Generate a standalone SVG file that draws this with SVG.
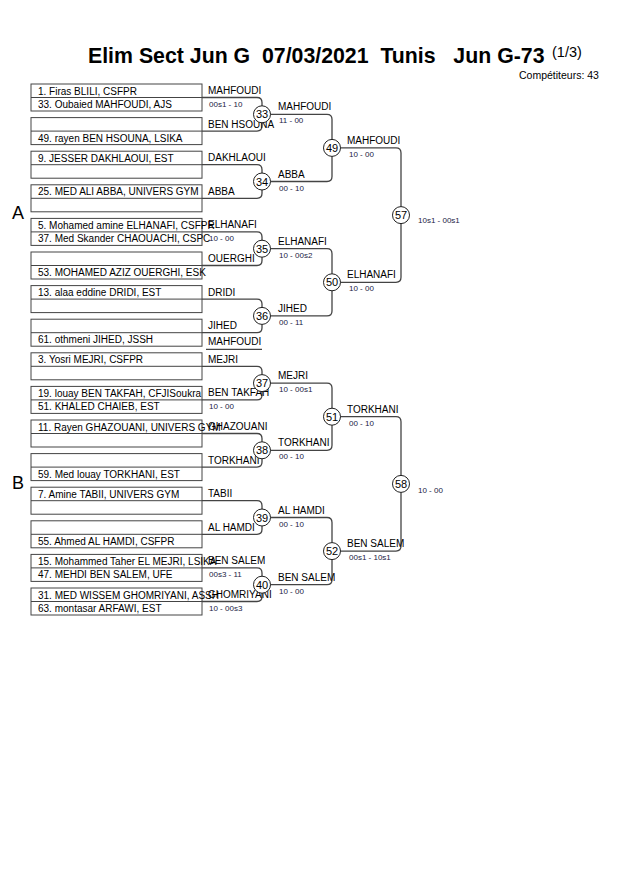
<svg xmlns="http://www.w3.org/2000/svg" width="630" height="891" viewBox="0 0 630 891">
<style>
text{font-family:"Liberation Sans",Arial,sans-serif;fill:#000}
.title{font-size:21.3px;font-weight:bold;white-space:pre}
.sup{font-size:14.5px}
.comp{font-size:10.5px}
.big{font-size:18px}
.pl{font-size:10px}
.nm{font-size:10px}
.sc{font-size:8px;fill:#222244}
.num{font-size:11px;text-anchor:middle}
.box{fill:#fff;stroke:#444;stroke-width:1}
.div{stroke:#444;stroke-width:1}
.br{fill:none;stroke:#444;stroke-width:1.3}
.c{fill:#fff;stroke:#222;stroke-width:1}
</style>
<rect width="630" height="891" fill="#fff"/>
<g id="header">
<text class="title" x="88" y="63">Elim Sect Jun G  07/03/2021  Tunis   Jun G-73</text>
<text class="sup" x="552" y="57">(1/3)</text>
<text class="comp" x="519" y="79">Compétiteurs: 43</text>
<text class="big" x="12" y="219">A</text>
<text class="big" x="12" y="489">B</text>
</g>
<g id="connectors">
<path class="br" d="M202,97.5H257Q262,97.5 262,102.5V126.1Q262,131.1 257,131.1H202"/>
<path class="br" d="M202,164.7H257Q262,164.7 262,169.7V193.3Q262,198.3 257,198.3H202"/>
<path class="br" d="M202,231.9H257Q262,231.9 262,236.9V260.5Q262,265.5 257,265.5H202"/>
<path class="br" d="M202,299.1H257Q262,299.1 262,304.1V327.7Q262,332.7 257,332.7H202"/>
<path class="br" d="M202,366.3H257Q262,366.3 262,371.3V394.9Q262,399.9 257,399.9H202"/>
<path class="br" d="M202,433.5H257Q262,433.5 262,438.5V462.1Q262,467.1 257,467.1H202"/>
<path class="br" d="M202,500.7H257Q262,500.7 262,505.7V529.3Q262,534.3 257,534.3H202"/>
<path class="br" d="M202,567.9H257Q262,567.9 262,572.9V596.5Q262,601.5 257,601.5H202"/>
<line class="br" x1="206" y1="349.3" x2="262" y2="349.3"/>
<path class="br" d="M262,114.3H327Q332,114.3 332,119.3V176.5Q332,181.5 327,181.5H262"/>
<path class="br" d="M262,248.7H327Q332,248.7 332,253.7V310.9Q332,315.9 327,315.9H262"/>
<path class="br" d="M262,383.1H327Q332,383.1 332,388.1V445.3Q332,450.3 327,450.3H262"/>
<path class="br" d="M262,517.5H327Q332,517.5 332,522.5V579.7Q332,584.7 327,584.7H262"/>
<path class="br" d="M332,147.9H396Q401,147.9 401,152.9V277.3Q401,282.3 396,282.3H332"/>
<path class="br" d="M332,416.7H396Q401,416.7 401,421.7V546.1Q401,551.1 396,551.1H332"/>
</g>
<g id="pairs">
<g id="p0"><rect class="box" x="31" y="84" width="171" height="27"/><line class="div" x1="31" y1="97.5" x2="202" y2="97.5"/>
<text class="pl" x="38" y="94.5">1. Firas BLILI, CSFPR</text><text class="pl" x="38" y="108">33. Oubaied MAHFOUDI, AJS</text></g>
<g id="p1"><rect class="box" x="31" y="117.6" width="171" height="27"/><line class="div" x1="31" y1="131.1" x2="202" y2="131.1"/>
<text class="pl" x="38" y="141.6">49. rayen BEN HSOUNA, LSIKA</text></g>
<g id="p2"><rect class="box" x="31" y="151.2" width="171" height="27"/><line class="div" x1="31" y1="164.7" x2="202" y2="164.7"/>
<text class="pl" x="38" y="161.7">9. JESSER DAKHLAOUI, EST</text></g>
<g id="p3"><rect class="box" x="31" y="184.8" width="171" height="27"/><line class="div" x1="31" y1="198.3" x2="202" y2="198.3"/>
<text class="pl" x="38" y="195.3">25. MED ALI ABBA, UNIVERS GYM</text></g>
<g id="p4"><rect class="box" x="31" y="218.4" width="171" height="27"/><line class="div" x1="31" y1="231.9" x2="202" y2="231.9"/>
<text class="pl" x="38" y="228.9">5. Mohamed amine ELHANAFI, CSFPR</text><text class="pl" x="38" y="242.4">37. Med Skander CHAOUACHI, CSPC</text></g>
<g id="p5"><rect class="box" x="31" y="252" width="171" height="27"/><line class="div" x1="31" y1="265.5" x2="202" y2="265.5"/>
<text class="pl" x="38" y="276">53. MOHAMED AZIZ OUERGHI, ESK</text></g>
<g id="p6"><rect class="box" x="31" y="285.6" width="171" height="27"/><line class="div" x1="31" y1="299.1" x2="202" y2="299.1"/>
<text class="pl" x="38" y="296.1">13. alaa eddine DRIDI, EST</text></g>
<g id="p7"><rect class="box" x="31" y="319.2" width="171" height="27"/><line class="div" x1="31" y1="332.7" x2="202" y2="332.7"/>
<text class="pl" x="38" y="343.2">61. othmeni JIHED, JSSH</text></g>
<g id="p8"><rect class="box" x="31" y="352.8" width="171" height="27"/><line class="div" x1="31" y1="366.3" x2="202" y2="366.3"/>
<text class="pl" x="38" y="363.3">3. Yosri MEJRI, CSFPR</text></g>
<g id="p9"><rect class="box" x="31" y="386.4" width="171" height="27"/><line class="div" x1="31" y1="399.9" x2="202" y2="399.9"/>
<text class="pl" x="38" y="396.9">19. louay BEN TAKFAH, CFJISoukra</text><text class="pl" x="38" y="410.4">51. KHALED CHAIEB, EST</text></g>
<g id="p10"><rect class="box" x="31" y="420" width="171" height="27"/><line class="div" x1="31" y1="433.5" x2="202" y2="433.5"/>
<text class="pl" x="38" y="430.5">11. Rayen GHAZOUANI, UNIVERS GYM</text></g>
<g id="p11"><rect class="box" x="31" y="453.6" width="171" height="27"/><line class="div" x1="31" y1="467.1" x2="202" y2="467.1"/>
<text class="pl" x="38" y="477.6">59. Med louay TORKHANI, EST</text></g>
<g id="p12"><rect class="box" x="31" y="487.2" width="171" height="27"/><line class="div" x1="31" y1="500.7" x2="202" y2="500.7"/>
<text class="pl" x="38" y="497.7">7. Amine TABII, UNIVERS GYM</text></g>
<g id="p13"><rect class="box" x="31" y="520.8" width="171" height="27"/><line class="div" x1="31" y1="534.3" x2="202" y2="534.3"/>
<text class="pl" x="38" y="544.8">55. Ahmed AL HAMDI, CSFPR</text></g>
<g id="p14"><rect class="box" x="31" y="554.4" width="171" height="27"/><line class="div" x1="31" y1="567.9" x2="202" y2="567.9"/>
<text class="pl" x="38" y="564.9">15. Mohammed Taher EL MEJRI, LSIKA</text><text class="pl" x="38" y="578.4">47. MEHDI BEN SALEM, UFE</text></g>
<g id="p15"><rect class="box" x="31" y="588" width="171" height="27"/><line class="div" x1="31" y1="601.5" x2="202" y2="601.5"/>
<text class="pl" x="38" y="598.5">31. MED WISSEM GHOMRIYANI, ASSH</text><text class="pl" x="38" y="612">63. montasar ARFAWI, EST</text></g>
</g>
<g id="labels-r1">
<text class="nm" x="208" y="94">MAHFOUDI</text><text class="sc" x="209" y="107">00s1 - 10</text>
<text class="nm" x="208" y="127.6">BEN HSOUNA</text>
<text class="nm" x="208" y="161.2">DAKHLAOUI</text>
<text class="nm" x="208" y="194.8">ABBA</text>
<text class="nm" x="208" y="228.4">ELHANAFI</text><text class="sc" x="209" y="241.4">10 - 00</text>
<text class="nm" x="208" y="262">OUERGHI</text>
<text class="nm" x="208" y="295.6">DRIDI</text>
<text class="nm" x="208" y="329.2">JIHED</text>
<text class="nm" x="208" y="345">MAHFOUDI</text>
<text class="nm" x="208" y="362.8">MEJRI</text>
<text class="nm" x="208" y="396.4">BEN TAKFAH</text><text class="sc" x="209" y="409.4">10 - 00</text>
<text class="nm" x="208" y="430">GHAZOUANI</text>
<text class="nm" x="208" y="463.6">TORKHANI</text>
<text class="nm" x="208" y="497.2">TABII</text>
<text class="nm" x="208" y="530.8">AL HAMDI</text>
<text class="nm" x="208" y="564.4">BEN SALEM</text><text class="sc" x="209" y="577.4">00s3 - 11</text>
<text class="nm" x="208" y="598">GHOMRIYANI</text><text class="sc" x="209" y="611">10 - 00s3</text>
</g>
<g id="labels-r2">
<text class="nm" x="278" y="110.3">MAHFOUDI</text><text class="sc" x="279" y="123.3">11 - 00</text>
<text class="nm" x="278" y="177.5">ABBA</text><text class="sc" x="279" y="190.5">00 - 10</text>
<text class="nm" x="278" y="244.7">ELHANAFI</text><text class="sc" x="279" y="257.7">10 - 00s2</text>
<text class="nm" x="278" y="311.9">JIHED</text><text class="sc" x="279" y="324.9">00 - 11</text>
<text class="nm" x="278" y="379.1">MEJRI</text><text class="sc" x="279" y="392.1">10 - 00s1</text>
<text class="nm" x="278" y="446.3">TORKHANI</text><text class="sc" x="279" y="459.3">00 - 10</text>
<text class="nm" x="278" y="513.5">AL HAMDI</text><text class="sc" x="279" y="526.5">00 - 10</text>
<text class="nm" x="278" y="580.7">BEN SALEM</text><text class="sc" x="279" y="593.7">10 - 00</text>
</g>
<g id="labels-r3">
<text class="nm" x="347" y="143.9">MAHFOUDI</text><text class="sc" x="349" y="156.9">10 - 00</text>
<text class="nm" x="347" y="278.3">ELHANAFI</text><text class="sc" x="349" y="291.3">10 - 00</text>
<text class="nm" x="347" y="412.7">TORKHANI</text><text class="sc" x="349" y="425.7">00 - 10</text>
<text class="nm" x="347" y="547.1">BEN SALEM</text><text class="sc" x="349" y="560.1">00s1 - 10s1</text>
</g>
<g id="labels-r4">
<text class="sc" x="418" y="223">10s1 - 00s1</text>
<text class="sc" x="418" y="493">10 - 00</text>
</g>
<g id="matches">
<g id="m33"><circle class="c" cx="262" cy="114.3" r="8.5"/><text class="num" x="262" y="118.3">33</text></g>
<g id="m34"><circle class="c" cx="262" cy="181.5" r="8.5"/><text class="num" x="262" y="185.5">34</text></g>
<g id="m35"><circle class="c" cx="262" cy="248.7" r="8.5"/><text class="num" x="262" y="252.7">35</text></g>
<g id="m36"><circle class="c" cx="262" cy="315.9" r="8.5"/><text class="num" x="262" y="319.9">36</text></g>
<g id="m37"><circle class="c" cx="262" cy="383.1" r="8.5"/><text class="num" x="262" y="387.1">37</text></g>
<g id="m38"><circle class="c" cx="262" cy="450.3" r="8.5"/><text class="num" x="262" y="454.3">38</text></g>
<g id="m39"><circle class="c" cx="262" cy="517.5" r="8.5"/><text class="num" x="262" y="521.5">39</text></g>
<g id="m40"><circle class="c" cx="262" cy="584.7" r="8.5"/><text class="num" x="262" y="588.7">40</text></g>
<g id="m49"><circle class="c" cx="332" cy="147.9" r="8.5"/><text class="num" x="332" y="151.9">49</text></g>
<g id="m50"><circle class="c" cx="332" cy="282.3" r="8.5"/><text class="num" x="332" y="286.3">50</text></g>
<g id="m51"><circle class="c" cx="332" cy="416.7" r="8.5"/><text class="num" x="332" y="420.7">51</text></g>
<g id="m52"><circle class="c" cx="332" cy="551.1" r="8.5"/><text class="num" x="332" y="555.1">52</text></g>
<g id="m57"><circle class="c" cx="401" cy="215.1" r="8.5"/><text class="num" x="401" y="219.1">57</text></g>
<g id="m58"><circle class="c" cx="401" cy="483.9" r="8.5"/><text class="num" x="401" y="487.9">58</text></g>
</g>
</svg>
